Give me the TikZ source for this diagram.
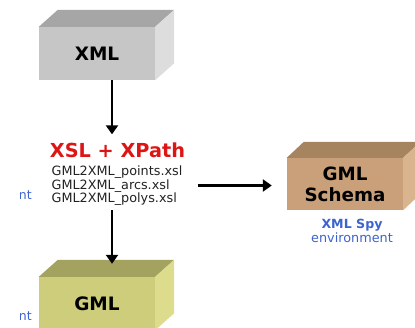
\documentclass[tikz,border=0pt]{standalone}
\usepackage{fontspec}
\setmainfont{DejaVu Sans}
\usetikzlibrary{arrows.meta,calc}
\definecolor{xmlF}{HTML}{C6C6C6}
\definecolor{xmlT}{HTML}{A6A6A6}
\definecolor{xmlR}{HTML}{DDDDDD}
\definecolor{schF}{HTML}{C9A079}
\definecolor{schT}{HTML}{A6845F}
\definecolor{schR}{HTML}{DAB48E}
\definecolor{gmlF}{HTML}{CDCD7B}
\definecolor{gmlT}{HTML}{A3A35F}
\definecolor{gmlR}{HTML}{DCDC8C}
\definecolor{redT}{HTML}{DD1515}
\definecolor{blueT}{HTML}{3C63CF}
\definecolor{fileT}{HTML}{222222}
\tikzset{
  x=1pt,y=1pt,
  front/.style={minimum width=116pt,minimum height=53pt,inner sep=0pt,font=\fontsize{18.5}{21}\selectfont\bfseries,align=center},
  arr/.style={line width=2.6pt,-{Triangle[length=9pt,width=12pt]}},
  files/.style={font=\fontsize{12.8}{13.6}\selectfont,text=fileT,align=left,inner sep=0pt},
  frag/.style={inner sep=0pt,text=blueT,font=\fontsize{12.5}{14}\selectfont,anchor=east},
}
\newcommand{\boxfaces}[3]{% node, top colour, right colour
  \fill[#2] (#1.north west) -- ++(19,17) -- ($(#1.north east)+(19,17)$) -- (#1.north east) -- cycle;
  \fill[#3] (#1.north east) -- ++(19,17) -- ($(#1.south east)+(19,17)$) -- (#1.south east) -- cycle;
}
\begin{document}
\begin{tikzpicture}
\useasboundingbox (0,0) rectangle (415,327);
% XML box
\node[front,fill=xmlF] (xml) at (97,273.5) {XML};
\boxfaces{xml}{xmlT}{xmlR}
% XSL
\node[inner sep=0pt,text=redT,font=\fontsize{19.3}{21}\selectfont\bfseries] (xsl) at (117.5,177) {XSL + XPath};
\node[files] (files) at (117,141) {GML2XML\_points.xsl\\GML2XML\_arcs.xsl\\GML2XML\_polys.xsl};
% GML Schema box
\node[front,fill=schF,minimum height=52pt,font=\fontsize{18.3}{21}\selectfont\bfseries] (sch) at (345,143) {GML\\Schema};
\fill[schT] (sch.north west) -- ++(17,16) -- ($(sch.north east)+(17,16)$) -- (sch.north east) -- cycle;
\fill[schR] (sch.north east) -- ++(17,16) -- ($(sch.south east)+(17,16)$) -- (sch.south east) -- cycle;
\node[inner sep=0pt,text=blueT,font=\fontsize{12.6}{14}\selectfont\bfseries] (spy) at (352,102) {XML Spy};
\node[inner sep=0pt,text=blueT,font=\fontsize{12.8}{14}\selectfont] (env) at (352,89) {environment};
% GML box
\node[front,fill=gmlF] (gml) at (97,23.5) {GML};
\boxfaces{gml}{gmlT}{gmlR}
% fragments cut by the left edge
\begin{scope}
\clip (20,0) rectangle (40,327);
\node[frag] (frag1) at (32,132) {ent};
\node[frag] (frag2) at (32,11) {ent};
\end{scope}
% arrows
\coordinate (a1s) at ([xshift=15pt]xml.south);
\draw[arr] (a1s) -- ([yshift=8pt]a1s |- xsl.north);
\coordinate (a2s) at ([xshift=15pt,yshift=0.5pt]files.east);
\draw[arr] (a2s) -- (a2s -| {$(sch.west)+(-15,0)$});
\coordinate (a3s) at (a1s |- files.south);
\draw[arr] ([yshift=-4pt]a3s) -- ([yshift=13pt]a3s |- gml.north);
\end{tikzpicture}
\end{document}
